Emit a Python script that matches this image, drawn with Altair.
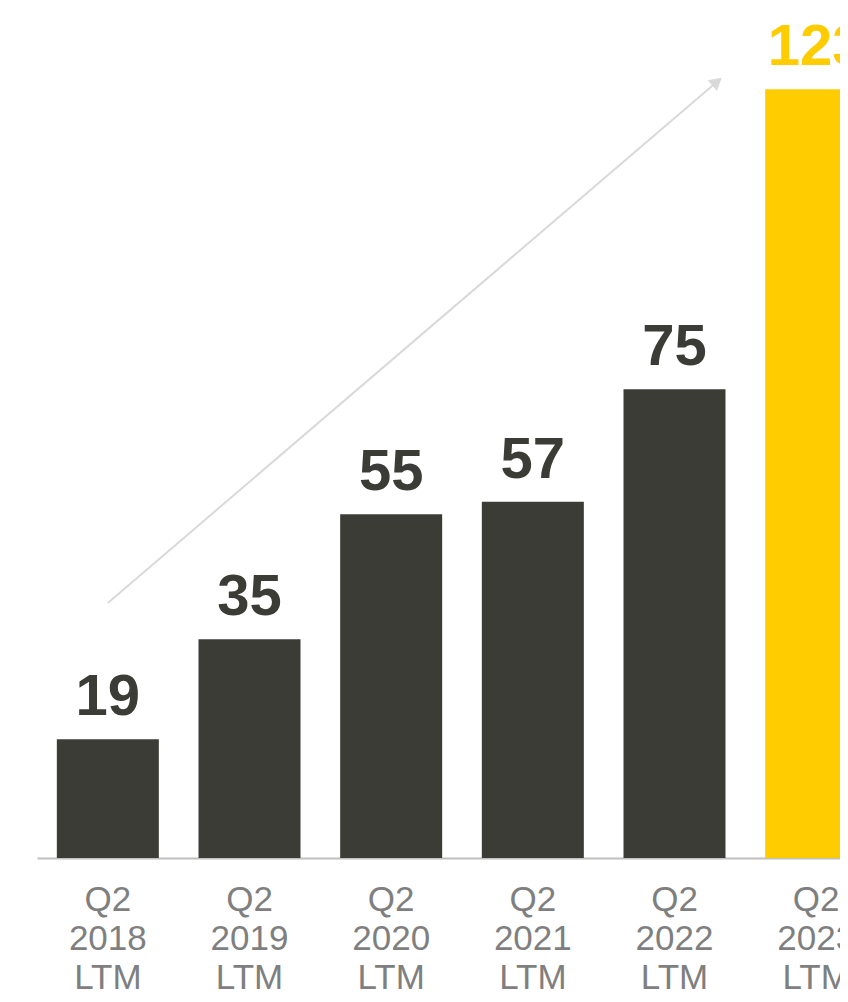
import altair as alt
import pandas as pd

categories = ["Q2 2018 LTM", "Q2 2019 LTM", "Q2 2020 LTM", "Q2 2021 LTM", "Q2 2022 LTM", "Q2 2023 LTM"]
values = [19, 35, 55, 57, 75, 123]
bar_colors = ["#3C3C37", "#3C3C37", "#3C3C37", "#3C3C37", "#3C3C37", "#FFCC00"]

# trend arrow (x in category-index units, y in value units)
arrow_x = [0.50, 4.80]
arrow_y = [40.8, 124.2]

Y_MAX = 136
X_RANGE = [0, 850]

df = pd.DataFrame({"cat": categories, "value": values, "color": bar_colors})
arrow_df = pd.DataFrame({"x": [arrow_x[0]], "y": [arrow_y[0]], "x2": [arrow_x[1]], "y2": [arrow_y[1]]})
head_df = pd.DataFrame({"x": [arrow_x[1]], "y": [arrow_y[1]]})

x_enc = alt.X(
    "cat:N",
    sort=categories,
    scale=alt.Scale(range=X_RANGE, paddingInner=0.28, paddingOuter=0.14),
    axis=alt.Axis(
        title=None,
        labelExpr="split(datum.label, ' ')",
        labelAngle=0,
        labelFont="Liberation Sans, Arial, sans-serif",
        labelFontSize=35,
        labelLineHeight=39,
        labelColor="#7F7F7F",
        labelBaseline="top",
        labelPadding=24,
        labelOverlap=False,
        labelFlush=False,
        ticks=False,
        tickSize=0,
        domainColor="#BFBFBF",
        domainWidth=2,
        grid=False,
    ),
)
y_enc = alt.Y("value:Q", scale=alt.Scale(domain=[0, Y_MAX]), axis=None)

bars = alt.Chart(df).mark_bar().encode(
    x=x_enc,
    y=y_enc,
    color=alt.Color("color:N", scale=None),
)

labels = alt.Chart(df).mark_text(
    baseline="alphabetic",
    dy=-24,
    font="Liberation Sans, Arial, sans-serif",
    fontWeight="bold",
    fontSize=58,
).encode(
    x=alt.X("cat:N", sort=categories),
    y=y_enc,
    text=alt.Text("value:Q"),
    color=alt.Color("color:N", scale=None),
)

ax = alt.X("x:Q", scale=alt.Scale(domain=[0, 6], range=X_RANGE), axis=None)
ay = alt.Y("y:Q", scale=alt.Scale(domain=[0, Y_MAX]), axis=None)

arrow = alt.Chart(arrow_df).mark_rule(color="#D9D9D9", strokeWidth=2).encode(
    x=ax, y=ay, x2="x2:Q", y2="y2:Q"
)
head = alt.Chart(head_df).mark_point(
    shape="triangle-up", filled=True, size=200, angle=49.4, color="#D9D9D9", opacity=1
).encode(x=ax, y=ay)

chart = (
    alt.layer(alt.layer(bars, labels), alt.layer(arrow, head))
    .resolve_scale(x="independent")
    .properties(
        width=803,
        height=850,
        autosize=alt.AutoSizeParams(type="none"),
        padding={"left": 29, "top": 0, "right": 0, "bottom": 136},
        background="white",
    )
    .configure_view(strokeWidth=0)
)

chart.save("out.html", embed_options={"renderer": "svg", "actions": False})
